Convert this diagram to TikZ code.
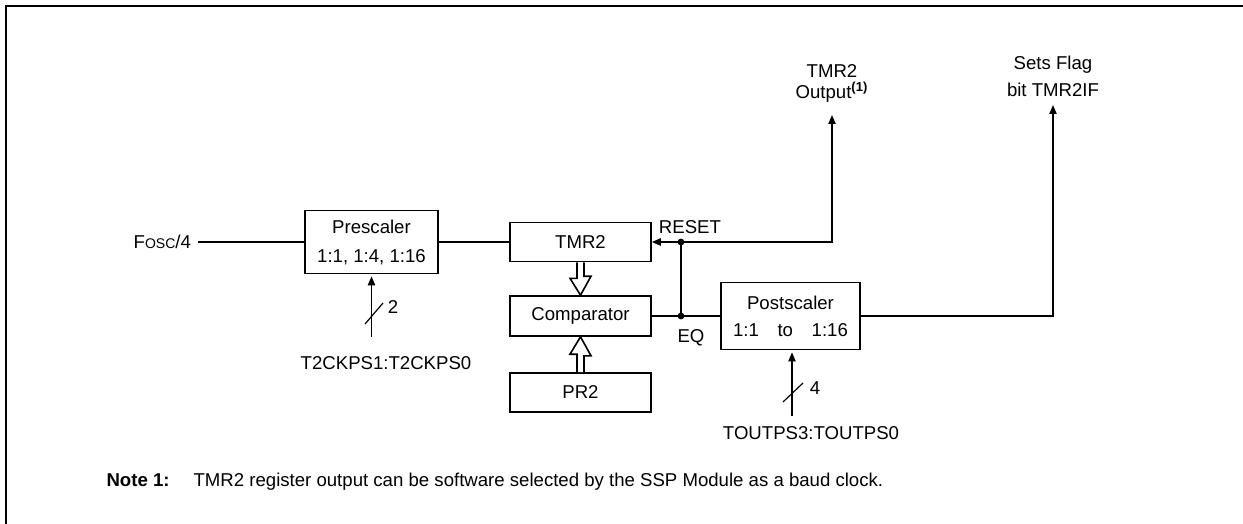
\documentclass[tikz,border=0pt]{standalone}
\usepackage{fontspec}
\setmainfont{Liberation Sans}
\usepackage{tikz}
\usetikzlibrary{arrows.meta, positioning, calc}

\begin{document}
\begin{tikzpicture}[x=0.5pt, y=-0.5pt, font=\fontsize{9.3}{11}\selectfont,
  box/.style={draw, line width=0.8pt, inner sep=0pt, align=center},
  lbl/.style={inner sep=3.33pt},
  line/.style={line width=0.8pt},
  sig/.style={line width=0.8pt, -{Triangle[length=4.5pt, width=3.6pt]}},
  slash/.style={line width=0.6pt},
  hollow/.style={draw, fill=white, line width=0.8pt, line join=miter},
  jdot/.style={circle, fill, inner sep=0pt, minimum size=3.4pt}]
  \useasboundingbox (0,0) rectangle (1243,524);

  % frame
  \draw[line width=1pt] (6,524) -- (6,6) -- (1243,6);

  % ===== Input and prescaler =====
  \node[lbl, anchor=east] (fosc) at (198,242) {F{\fontsize{7}{8}\selectfont OSC}/4};
  \node[box, minimum width=66.5pt, minimum height=31.5pt] (pre) at (371.5,242) {Prescaler\\[3.5pt]1:1, 1:4, 1:16};
  \draw[line] (fosc) -- (pre);

  % prescaler select bits
  \coordinate (psel) at (371.5,337);
  \draw[sig, shorten >=1pt] (psel) -- (pre.south);
  \draw[slash] ($(psel)+(-6.5,-13)$) -- ++(18,-21);
  \node[lbl] (pbits) at (393,307) {2};
  \node[lbl] (pselname) at (386,363) {T2CKPS1:T2CKPS0};

  % ===== Timer, comparator, period =====
  \node[box, minimum width=70.5pt, minimum height=19.5pt] (tmr) at (580.5,242) {TMR2};
  \node[box, minimum width=70.5pt, minimum height=20pt] (cmp) at (580.5,316) {Comparator};
  \node[box, minimum width=70.5pt, minimum height=19.5pt] (pr2) at (580.5,392.5) {PR2};
  \draw[line] (pre) -- (tmr);

  % hollow bus arrows
  \draw[hollow] ($(tmr.south)+(-3.5,0)$) -- ++(0,16) -- ++(-7,0) -- (cmp.north)
    -- ($(cmp.north)+(10.5,-19)$) -- ++(-7,0) -- ($(tmr.south)+(3.5,0)$);
  \draw[hollow] ($(pr2.north)+(-3.5,0)$) -- ++(0,-18) -- ++(-7,0) -- (cmp.south)
    -- ($(cmp.south)+(10.5,19)$) -- ++(-7,0) -- ($(pr2.north)+(3.5,0)$);

  % ===== Postscaler =====
  \node[box, minimum width=69.5pt, minimum height=33.5pt] (post) at (790.5,316) {Postscaler\\[2.5pt]1:1\quad to\quad 1:16};

  % EQ and RESET
  \coordinate (rdot) at (681,242);
  \coordinate (eqdot) at (681,316);
  \draw[line] (cmp.east) -- (cmp.east -| post.west);
  \draw[line] (eqdot) -- (rdot);
  \draw[sig] (rdot) -- (tmr.east);
  \node[jdot] (rjoin) at (rdot) {};
  \node[jdot] (eqjoin) at (eqdot) {};
  \node[lbl] (resetlbl) at (690,227) {RESET};
  \node[lbl] (eqlbl) at (691,337.5) {EQ};

  % ===== Outputs =====
  \node[lbl, align=center, anchor=south, inner ysep=6pt] (outlbl) at (832,115) {TMR2\\[-0.5pt]Output\textsuperscript{\bfseries(1)}};
  \draw[sig] (rdot) -| (outlbl.south);
  \node[lbl, align=center, anchor=south, inner ysep=4pt] (flag) at (1053,105) {Sets Flag\\[2.25pt]bit TMR2IF};
  \draw[sig] (post.east) -| (flag.south);

  % postscaler select bits
  \coordinate (tsel) at (792,416);
  \draw[sig, shorten >=1pt] (tsel) -- (tsel |- post.south);
  \draw[slash] ($(tsel)+(-9,-14)$) -- ++(20,-19);
  \node[lbl] (tbits) at (815,388) {4};
  \node[lbl] (tselname) at (811,433) {TOUTPS3:TOUTPS0};

  % note
  \node[lbl, anchor=west] (note) at (99.5,482) {\textbf{Note 1:}\hspace{12pt}TMR2 register output can be software selected by the SSP Module as a baud clock.};
\end{tikzpicture}
\end{document}
